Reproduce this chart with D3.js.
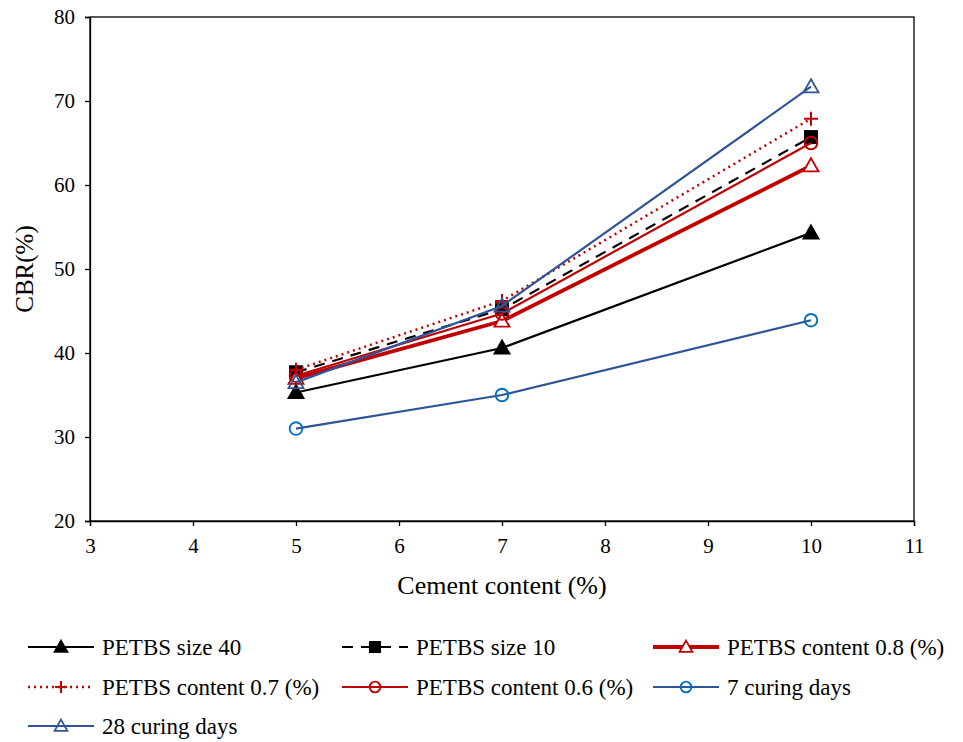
<!DOCTYPE html>
<head>
<meta charset="utf-8">
<style>
  body { margin: 0; background: #fff; }
  text { font-family: "Liberation Serif", "Times New Roman", serif; }
</style>
<script src="https://d3js.org/d3.v7.min.js"></script>
</head>
<body>
<script>
var cement = [5, 7, 10];
var xTicks = [3, 4, 5, 6, 7, 8, 9, 10, 11];
var yTicks = [20, 30, 40, 50, 60, 70, 80];

var size40 = [35.3, 40.6, 54.3];
var size10 = [37.7, 45.2, 65.7];
var content08 = [37.0, 43.8, 62.3];
var content07 = [38.0, 46.2, 67.9];
var content06 = [37.3, 44.7, 65.0];
var cure7 = [31.0, 35.0, 43.9];
var cure28 = [36.5, 45.6, 71.7];

var series = [
  {name: "PETBS size 40", values: size40, line: "#000", width: 2.2, dash: null, marker: "tri", mfill: "#000", mstroke: "#000"},
  {name: "PETBS size 10", values: size10, line: "#000", width: 2.2, dash: "11,8", marker: "sq", mfill: "#000", mstroke: "#000"},
  {name: "PETBS content 0.8 (%)", values: content08, line: "#C00000", width: 3.8, dash: null, marker: "tri", mfill: "#fff", mstroke: "#C00000"},
  {name: "PETBS content 0.7 (%)", values: content07, line: "#C00000", width: 2.5, dash: "2,4", marker: "plus", mfill: "none", mstroke: "#C00000"},
  {name: "PETBS content 0.6 (%)", values: content06, line: "#C00000", width: 2.2, dash: null, marker: "circ", mfill: "none", mstroke: "#C00000"},
  {name: "7 curing days", values: cure7, line: "#2F5597", width: 2.2, dash: null, marker: "circ", mfill: "none", mstroke: "#0070C0"},
  {name: "28 curing days", values: cure28, line: "#2F5597", width: 2.2, dash: null, marker: "tri", mfill: "none", mstroke: "#2F5597"}
];

var width = 963, height = 742;
var plotL = 90, plotR = 914, plotT = 17, plotB = 521;

var svg = d3.select("body").append("svg").attr("width", width).attr("height", height);

var x = d3.scaleLinear().domain([3, 11]).range([plotL, plotR]);
var y = d3.scaleLinear().domain([20, 80]).range([plotB, plotT]);

svg.append("g")
  .attr("transform", "translate(0," + plotB + ")")
  .call(d3.axisBottom(x).tickValues(xTicks).tickSize(5).tickPadding(12).tickFormat(d3.format("d")))
  .call(function(g) {
    g.selectAll("text").attr("font-size", 21).attr("fill", "#000")
      .style("font-family", "'Liberation Serif', serif");
    g.selectAll("line,path").attr("stroke", "#000").attr("stroke-width", 1.3);
  });

svg.append("g")
  .attr("transform", "translate(" + plotL + ",0)")
  .call(d3.axisLeft(y).tickValues(yTicks).tickSize(5).tickPadding(10).tickFormat(d3.format("d")))
  .call(function(g) {
    g.selectAll("text").attr("font-size", 21).attr("fill", "#000")
      .style("font-family", "'Liberation Serif', serif");
    g.selectAll("line,path").attr("stroke", "#000").attr("stroke-width", 1.3);
  });

svg.append("rect")
  .attr("x", plotL).attr("y", plotT)
  .attr("width", plotR - plotL).attr("height", plotB - plotT)
  .attr("fill", "none").attr("stroke", "#000").attr("stroke-width", 1.3);

svg.append("text")
  .attr("x", x(7)).attr("y", 594)
  .attr("text-anchor", "middle").attr("font-size", 26)
  .text("Cement content (%)");

svg.append("text")
  .attr("transform", "translate(33," + y(50) + ") rotate(-90)")
  .attr("text-anchor", "middle").attr("font-size", 25)
  .text("CBR(%)");

function drawMarker(g, s, cx, cy, scale) {
  var k = scale || 1;
  if (s.marker === "tri") {
    var h = 7.5 * k;
    g.append("path")
      .attr("d", "M" + cx + "," + (cy - h) + "L" + (cx + h) + "," + (cy + h * 0.75) + "L" + (cx - h) + "," + (cy + h * 0.75) + "Z")
      .attr("fill", s.mfill).attr("stroke", s.mstroke).attr("stroke-width", 1.8);
  } else if (s.marker === "sq") {
    var a = 6.5 * k;
    g.append("rect").attr("x", cx - a).attr("y", cy - a).attr("width", 2 * a).attr("height", 2 * a)
      .attr("fill", s.mfill).attr("stroke", s.mstroke);
  } else if (s.marker === "circ") {
    g.append("circle").attr("cx", cx).attr("cy", cy).attr("r", 6.3 * k)
      .attr("fill", s.mfill).attr("stroke", s.mstroke).attr("stroke-width", 1.9);
  } else if (s.marker === "plus") {
    var p = 7 * k;
    g.append("path")
      .attr("d", "M" + (cx - p) + "," + cy + "H" + (cx + p) + "M" + cx + "," + (cy - p) + "V" + (cy + p))
      .attr("stroke", s.mstroke).attr("stroke-width", 2);
  }
}

var line = d3.line()
  .x(function(d, i) { return x(cement[i]); })
  .y(function(d) { return y(d); });

series.forEach(function(s) {
  var g = svg.append("g");
  g.append("path")
    .attr("d", line(s.values))
    .attr("fill", "none")
    .attr("stroke", s.line)
    .attr("stroke-width", s.width)
    .attr("stroke-dasharray", s.dash);
  s.values.forEach(function(v, i) {
    drawMarker(g, s, x(cement[i]), y(v));
  });
});

// legend
var colX = [28, 342, 653];
var rowY = [647, 687, 726];
series.forEach(function(s, i) {
  var cx = colX[i % 3], cy = rowY[Math.floor(i / 3)];
  var g = svg.append("g");
  g.append("line")
    .attr("x1", cx).attr("x2", cx + 66).attr("y1", cy).attr("y2", cy)
    .attr("stroke", s.line).attr("stroke-width", s.width)
    .attr("stroke-dasharray", s.dash);
  drawMarker(g, s, cx + 33, cy, 0.85);
  g.append("text")
    .attr("x", cx + 74).attr("y", cy + 8)
    .attr("font-size", 23)
    .text(s.name);
});
</script>
</body>
</html>
